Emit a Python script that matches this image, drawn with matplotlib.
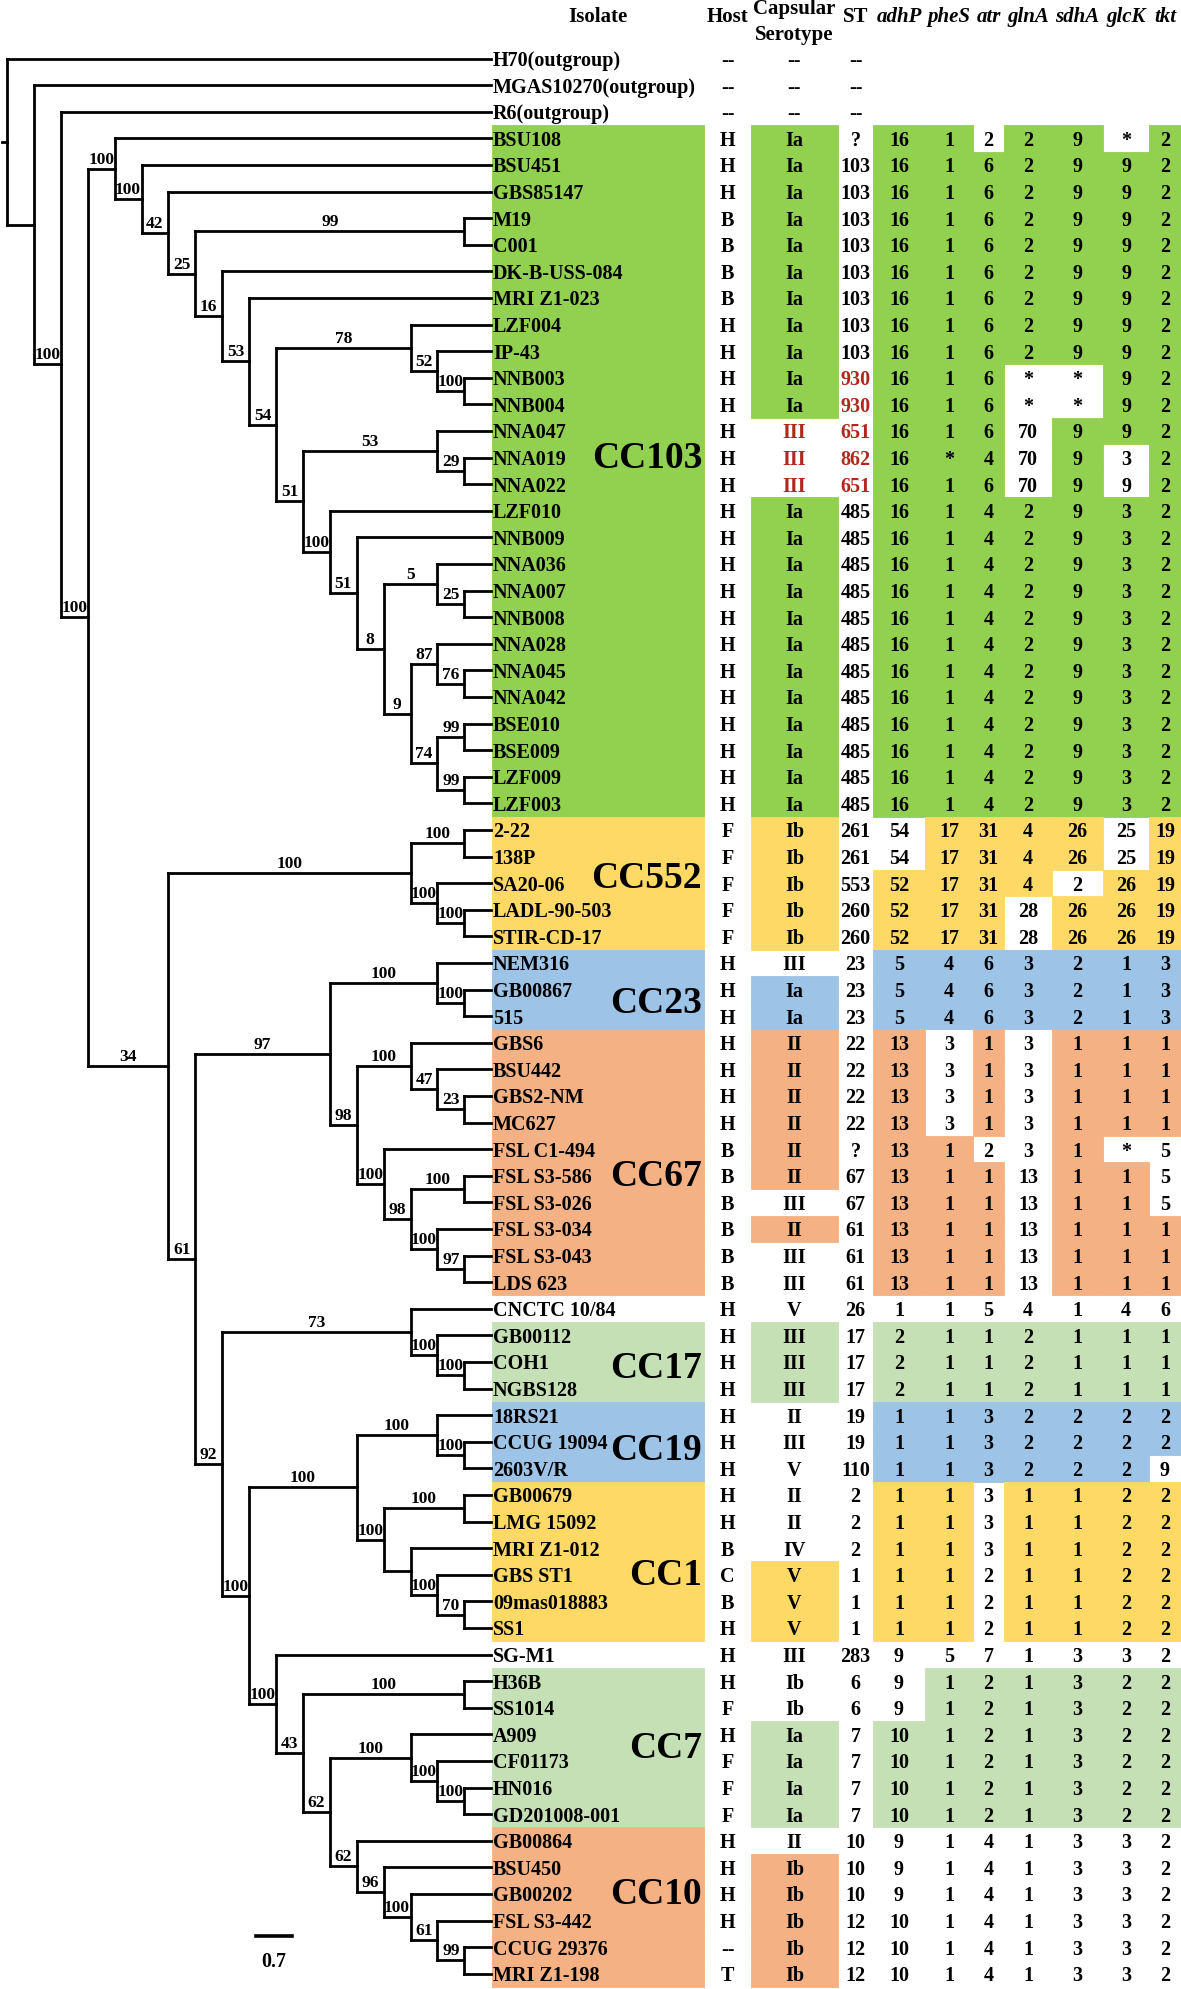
import matplotlib
matplotlib.use('Agg')
import matplotlib.pyplot as plt
from matplotlib.patches import Rectangle

plt.rcParams['font.family'] = ['Liberation Serif', 'DejaVu Serif']

# ---------------- data ----------------
isolates = ['H70(outgroup)', 'MGAS10270(outgroup)', 'R6(outgroup)',
            'BSU108', 'BSU451', 'GBS85147', 'M19', 'C001', 'DK-B-USS-084', 'MRI Z1-023',
            'LZF004', 'IP-43', 'NNB003', 'NNB004', 'NNA047', 'NNA019', 'NNA022',
            'LZF010', 'NNB009', 'NNA036', 'NNA007', 'NNB008', 'NNA028', 'NNA045', 'NNA042',
            'BSE010', 'BSE009', 'LZF009', 'LZF003',
            '2-22', '138P', 'SA20-06', 'LADL-90-503', 'STIR-CD-17',
            'NEM316', 'GB00867', '515',
            'GBS6', 'BSU442', 'GBS2-NM', 'MC627', 'FSL C1-494', 'FSL S3-586', 'FSL S3-026',
            'FSL S3-034', 'FSL S3-043', 'LDS 623',
            'CNCTC 10/84',
            'GB00112', 'COH1', 'NGBS128',
            '18RS21', 'CCUG 19094', '2603V/R',
            'GB00679', 'LMG 15092', 'MRI Z1-012', 'GBS ST1', '09mas018883', 'SS1',
            'SG-M1',
            'H36B', 'SS1014', 'A909', 'CF01173', 'HN016', 'GD201008-001',
            'GB00864', 'BSU450', 'GB00202', 'FSL S3-442', 'CCUG 29376', 'MRI Z1-198']

hosts = ('-- -- -- H H H B B B B H H H H H H H '
         'H H H H H H H H H H H H '
         'F F F F F H H H '
         'H H H H B B B B B B H '
         'H H H H H H H H B C B H H '
         'H F H F F F H H H H -- T').split()

serotypes = ('-- -- -- Ia Ia Ia Ia Ia Ia Ia Ia Ia Ia Ia III III III '
             'Ia Ia Ia Ia Ia Ia Ia Ia Ia Ia Ia Ia '
             'Ib Ib Ib Ib Ib III Ia Ia '
             'II II II II II II III II III III V '
             'III III III II III V II II IV V V V III '
             'Ib Ib Ia Ia Ia Ia II Ib Ib Ib Ib Ib').split()

sts = ('-- -- -- ? 103 103 103 103 103 103 103 103 930 930 651 862 651 '
       '485 485 485 485 485 485 485 485 485 485 485 485 '
       '261 261 553 260 260 23 23 23 '
       '22 22 22 22 ? 67 67 61 61 61 26 '
       '17 17 17 19 19 110 2 2 2 1 1 1 283 '
       '6 6 7 7 7 7 10 10 10 12 12 12').split()

genes = ['adhP', 'pheS', 'atr', 'glnA', 'sdhA', 'glcK', 'tkt']

alleles = ['', '', '',
           '16 1 2 2 9 * 2'] + ['16 1 6 2 9 9 2'] * 8 + \
          ['16 1 6 * * 9 2'] * 2 + \
          ['16 1 6 70 9 9 2', '16 * 4 70 9 3 2', '16 1 6 70 9 9 2'] + \
          ['16 1 4 2 9 3 2'] * 12 + \
          ['54 17 31 4 26 25 19'] * 2 + ['52 17 31 4 2 26 19'] + ['52 17 31 28 26 26 19'] * 2 + \
          ['5 4 6 3 2 1 3'] * 3 + \
          ['13 3 1 3 1 1 1'] * 4 + ['13 1 2 3 1 * 5'] + ['13 1 1 13 1 1 5'] * 2 + \
          ['13 1 1 13 1 1 1'] * 3 + \
          ['1 1 5 4 1 4 6'] + \
          ['2 1 1 2 1 1 1'] * 3 + \
          ['1 1 3 2 2 2 2'] * 2 + ['1 1 3 2 2 2 9'] + \
          ['1 1 3 1 1 2 2'] * 3 + ['1 1 2 1 1 2 2'] * 3 + \
          ['9 5 7 1 3 3 2'] + \
          ['9 1 2 1 3 2 2'] * 2 + ['10 1 2 1 3 2 2'] * 4 + \
          ['9 1 4 1 3 3 2'] * 3 + ['10 1 4 1 3 3 2'] * 3

# shaded cells: isolate, serotype, then the seven alleles (1 = shaded)
shaded = ['000000000'] * 3 + ['111101101'] + ['111111111'] * 8 + \
         ['111110011'] * 2 + ['101110111'] + ['101110101'] * 2 + \
         ['111111111'] * 12 + \
         ['110111101'] * 2 + ['111111011'] + ['111110111'] * 2 + \
         ['101111111'] + ['111111111'] * 2 + \
         ['111010111'] * 4 + ['111100100', '111110110', '101110110', '111110111'] + ['101110111'] * 2 + \
         ['000000000'] + \
         ['111111111'] * 3 + \
         ['101111111'] * 2 + ['101111110'] + \
         ['101101111'] * 3 + ['111101111'] * 3 + \
         ['000000000'] + \
         ['100111111'] * 2 + ['111111111'] * 4 + \
         ['100000000'] + ['110000000'] * 5

red_st_rows = [12, 13, 14, 15, 16]
red_sero_rows = [14, 15, 16]

# clonal complexes: name, first row, last row, colour, label row
cc_names = ['CC103', 'CC552', 'CC23', 'CC67', 'CC17', 'CC19', 'CC1', 'CC7', 'CC10']
cc_first = [3, 29, 34, 37, 48, 51, 54, 61, 67]
cc_last = [28, 33, 36, 46, 50, 53, 59, 66, 72]
cc_colors = ['#92D050', '#FFD966', '#9DC3E6', '#F4B183', '#C5E0B4',
             '#9DC3E6', '#FFD966', '#C5E0B4', '#F4B183']
cc_label_rows = [15, 30.8, 35.5, 42, 49.2, 52.3, 57, 63.5, 69]

# tree: (depth level, bootstrap, children); leaves are isolate names
tree = (0, None, [
    'H70(outgroup)',
    (1, None, [
        'MGAS10270(outgroup)',
        (2, '100', [
            'R6(outgroup)',
            (3, '100', [
                (4, '100', [
                    'BSU108',
                    (5, '100', [
                        'BSU451',
                        (6, '42', [
                            'GBS85147',
                            (7, '25', [
                                (17, '99', ['M19', 'C001']),
                                (8, '16', [
                                    'DK-B-USS-084',
                                    (9, '53', [
                                        'MRI Z1-023',
                                        (10, '54', [
                                            (15, '78', ['LZF004',
                                                        (16, '52', ['IP-43', (17, '100', ['NNB003', 'NNB004'])])]),
                                            (11, '51', [
                                                (16, '53', ['NNA047', (17, '29', ['NNA019', 'NNA022'])]),
                                                (12, '100', [
                                                    'LZF010',
                                                    (13, '51', [
                                                        'NNB009',
                                                        (14, '8', [
                                                            (16, '5', ['NNA036', (17, '25', ['NNA007', 'NNB008'])]),
                                                            (15, '9', [
                                                                (16, '87', ['NNA028', (17, '76', ['NNA045', 'NNA042'])]),
                                                                (16, '74', [(17, '99', ['BSE010', 'BSE009']),
                                                                            (17, '99', ['LZF009', 'LZF003'])]),
                                                            ]),
                                                        ]),
                                                    ]),
                                                ]),
                                            ]),
                                        ]),
                                    ]),
                                ]),
                            ]),
                        ]),
                    ]),
                ]),
                (6, '34', [
                    (15, '100', [
                        (17, '100', ['2-22', '138P']),
                        (16, '100', ['SA20-06', (17, '100', ['LADL-90-503', 'STIR-CD-17'])]),
                    ]),
                    (7, '61', [
                        (12, '97', [
                            (16, '100', ['NEM316', (17, '100', ['GB00867', '515'])]),
                            (13, '98', [
                                (15, '100', ['GBS6', (16, '47', ['BSU442', (17, '23', ['GBS2-NM', 'MC627'])])]),
                                (14, '100', ['FSL C1-494',
                                             (15, '98', [(17, '100', ['FSL S3-586', 'FSL S3-026']),
                                                         (16, '100', ['FSL S3-034',
                                                                      (17, '97', ['FSL S3-043', 'LDS 623'])])])]),
                            ]),
                        ]),
                        (8, '92', [
                            (15, '73', ['CNCTC 10/84', (16, '100', ['GB00112', (17, '100', ['COH1', 'NGBS128'])])]),
                            (9, '100', [
                                (13, '100', [
                                    (16, '100', ['18RS21', (17, '100', ['CCUG 19094', '2603V/R'])]),
                                    (14, '100', [
                                        (17, '100', ['GB00679', 'LMG 15092']),
                                        (15, None, ['MRI Z1-012',
                                                    (16, '100', ['GBS ST1', (17, '70', ['09mas018883', 'SS1'])])]),
                                    ]),
                                ]),
                                (10, '100', [
                                    'SG-M1',
                                    (11, '43', [
                                        (17, '100', ['H36B', 'SS1014']),
                                        (12, '62', [
                                            (15, '100', ['A909', (16, '100', ['CF01173',
                                                                              (17, '100', ['HN016', 'GD201008-001'])])]),
                                            (13, '62', ['GB00864',
                                                        (14, '96', ['BSU450',
                                                                    (15, '100', ['GB00202',
                                                                                 (16, '61', ['FSL S3-442',
                                                                                             (17, '99', ['CCUG 29376', 'MRI Z1-198'])])])])]),
                                        ]),
                                    ]),
                                ]),
                            ]),
                        ]),
                    ]),
                ]),
            ]),
        ]),
    ]),
])

# ---------------- layout ----------------
W, H = 1181, 1990
ROW0, ROW_H = 59.5, 26.6
X0, STEP, TIP_LEVEL = 7, 26.9, 18
TIP_X = X0 + STEP * TIP_LEVEL
# column edges: isolate, host, serotype, ST, seven alleles
edges = [492, 704, 751, 838, 873, 925, 973, 1004, 1052, 1103, 1149, 1181]
centers = [(a + b) / 2 for a, b in zip(edges[:-1], edges[1:])]
shade_cols = [0, 2, 4, 5, 6, 7, 8, 9, 10]
RED = '#B0281C'
FS = 14.5

fig = plt.figure(figsize=(W / 100, H / 100), dpi=100)
ax = fig.add_axes([0, 0, 1, 1])
ax.set_xlim(0, W)
ax.set_ylim(H, 0)
ax.axis('off')


def row_y(i):
    return ROW0 + ROW_H * i


# shaded table cells
row_color = ['white'] * len(isolates)
for name, a, b, col in zip(cc_names, cc_first, cc_last, cc_colors):
    for i in range(a, b + 1):
        row_color[i] = col
for i, mask in enumerate(shaded):
    for flag, c in zip(mask, shade_cols):
        if flag == '1':
            ax.add_patch(Rectangle((edges[c], row_y(i) - ROW_H / 2), edges[c + 1] - edges[c], ROW_H,
                                   facecolor=row_color[i], edgecolor=row_color[i], lw=0.6, zorder=1))

# table text
for i in range(len(isolates)):
    y = row_y(i) + 1.5
    ax.text(edges[0] + 1, y, isolates[i], ha='left', va='center', fontsize=FS, fontweight='bold', zorder=3)
    ax.text(centers[1], y, hosts[i], ha='center', va='center', fontsize=FS, fontweight='bold', zorder=3)
    ax.text(centers[2], y, serotypes[i], ha='center', va='center', fontsize=FS, fontweight='bold',
            color=RED if i in red_sero_rows else 'black', zorder=3)
    ax.text(centers[3], y, sts[i], ha='center', va='center', fontsize=FS, fontweight='bold',
            color=RED if i in red_st_rows else 'black', zorder=3)
    for k, v in enumerate(alleles[i].split()):
        ax.text(centers[4 + k], y, v, ha='center', va='center', fontsize=FS, fontweight='bold', zorder=3)

# CC labels
for name, r in zip(cc_names, cc_label_rows):
    ax.text(edges[1] - 2, row_y(r), name, ha='right', va='center', fontsize=27, fontweight='bold', zorder=3)

# header
hy = 17
ax.text(centers[0], hy, 'Isolate', ha='center', va='center', fontsize=15, fontweight='bold')
ax.text(centers[1], hy, 'Host', ha='center', va='center', fontsize=15, fontweight='bold')
ax.text(centers[2], 9, 'Capsular', ha='center', va='center', fontsize=15, fontweight='bold')
ax.text(centers[2], 35, 'Serotype', ha='center', va='center', fontsize=15, fontweight='bold')
ax.text(centers[3], hy, 'ST', ha='center', va='center', fontsize=15, fontweight='bold')
for k, g in enumerate(genes):
    ax.text(centers[4 + k], hy, g, ha='center', va='center', fontsize=15, fontweight='bold', style='italic')

# tree
LW = 2.0


def draw(node):
    if isinstance(node, str):
        return TIP_X, row_y(isolates.index(node))
    level, support, kids = node
    x = X0 + STEP * level
    pts = [draw(k) for k in kids]
    ys = [p[1] for p in pts]
    ax.plot([x, x], [min(ys), max(ys)], color='black', lw=LW, solid_capstyle='projecting', zorder=2)
    for (cx, cy), k in zip(pts, kids):
        ax.plot([x, cx], [cy, cy], color='black', lw=LW, solid_capstyle='projecting', zorder=2)
        if not isinstance(k, str) and k[1]:
            ax.text((x + cx) / 2, cy - 2, k[1], ha='center', va='bottom', fontsize=12.5,
                    fontweight='bold', zorder=3)
    return x, (min(ys) + max(ys)) / 2


rx, ry = draw(tree)
ax.plot([2, rx], [ry, ry], color='black', lw=LW, zorder=2)

# scale bar
ax.plot([256, 292], [1937, 1937], color='black', lw=2.6)
ax.text(274, 1962, '0.7', ha='center', va='center', fontsize=FS, fontweight='bold')

fig.savefig('out.png', dpi=100)
